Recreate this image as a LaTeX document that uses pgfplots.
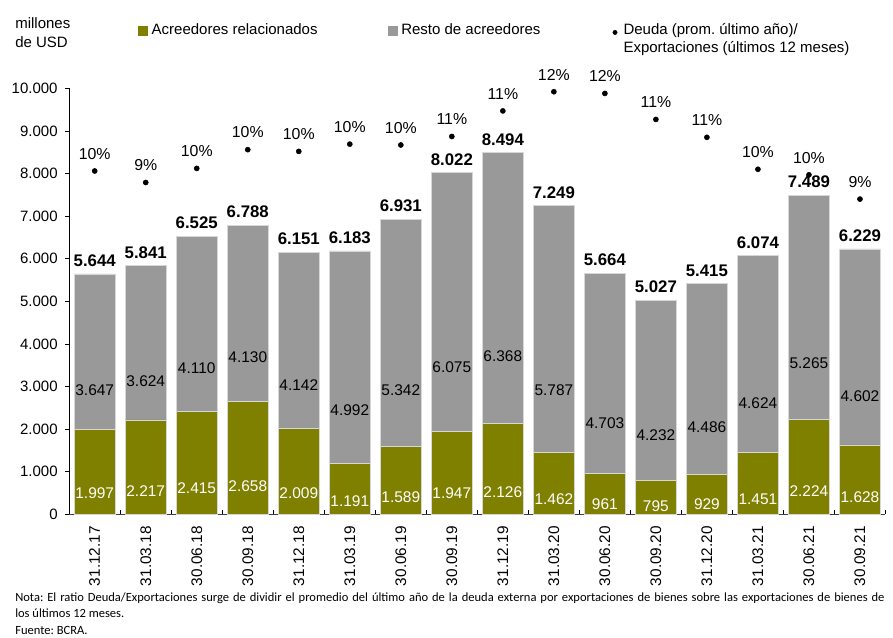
\documentclass[border=0pt]{standalone}
\usepackage{fontspec}
\setmainfont{Liberation Sans}
\newfontfamily\notefont{Carlito}
\usepackage{pgfplots}
\pgfplotsset{compat=1.18}
\definecolor{olivec}{RGB}{128,128,0}
\definecolor{grayc}{RGB}{153,153,153}
\definecolor{edgec}{RGB}{215,215,215}
\pgfplotsset{
  common/.style={
    scale only axis, width=612.2pt, height=319.5pt,
    at={(51.9pt,92pt)}, anchor=south west,
    xmin=-0.5, xmax=15.5, ymin=0, ymax=10000,
    enlargelimits=false, clip=false,
    /pgf/number format/1000 sep={.},
    /pgf/number format/assume math mode=true,
  }
}
\begin{document}
\frenchspacing
\begin{tikzpicture}[font=\fontsize{11.25}{13.5}\selectfont]
\useasboundingbox (0,0) rectangle (669.75pt,477.75pt);
\begin{axis}[common,
  ybar stacked, bar width=0.8,
  axis lines*=left,
  y axis line style={black, line width=0.8pt},
  x axis line style={black!75, line width=0.8pt},
  ytick={0,1000,...,10000}, scaled y ticks=false,
  ytick align=outside, xtick align=inside,
  major tick length=3pt, minor tick length=3pt,
  tick style={black, line width=0.6pt},
  xtick={0,...,15},
  xticklabels={31.12.17,31.03.18,30.06.18,30.09.18,31.12.18,31.03.19,30.06.19,30.09.19,31.12.19,31.03.20,30.06.20,30.09.20,31.12.20,31.03.21,30.06.21,30.09.21},
  major x tick style={draw=none},
  minor xtick={0.5,1.5,...,15.5},
  xticklabel style={rotate=90, anchor=east, inner sep=0pt, font=\fontsize{11.5}{13}\selectfont},
  xticklabel shift=8.8pt,
  yticklabel style={inner sep=0pt},
  yticklabel shift=5.5pt,
  legend columns=3,
  legend style={at={(axis description cs:0.0843,1.1512)}, anchor=north west,
    draw=none, fill=none, inner sep=0pt, outer sep=0pt,
    column sep=3pt,
    /tikz/every even column/.append style={column sep=52.5pt},
    cells={anchor=base west},
    nodes={inner sep=0pt, text depth=0pt}},
]
\addplot[fill=olivec, draw=edgec, line width=0.5pt,
  legend image code/.code={\fill[olivec] (0pt,0pt) rectangle (6.75pt,6.75pt);},
  visualization depends on=rawy \as \rawy,
  nodes near coords={\pgfmathprintnumber{\rawy}},
  every node near coord/.append style={text=white, anchor=center, inner sep=0pt,
    font=\fontsize{11.6}{13}\selectfont, shift={(axis direction cs:0,-\rawy/4)}},
] coordinates {(0,1997) (1,2217) (2,2415) (3,2658) (4,2009) (5,1191) (6,1589) (7,1947)
  (8,2126) (9,1462) (10,961) (11,795) (12,929) (13,1451) (14,2224) (15,1628)};
\addlegendentry{Acreedores relacionados}
\addplot[fill=grayc, draw=edgec, line width=0.5pt,
  legend image code/.code={\fill[grayc] (0pt,0pt) rectangle (6.75pt,6.75pt);},
  visualization depends on=rawy \as \rawy,
  nodes near coords={\pgfmathprintnumber{\rawy}},
  every node near coord/.append style={text=black, anchor=center, inner sep=0pt,
    font=\fontsize{11.6}{13}\selectfont, shift={(axis direction cs:0,-\rawy/4)}},
] coordinates {(0,3647) (1,3624) (2,4110) (3,4130) (4,4142) (5,4992) (6,5342) (7,6075)
  (8,6368) (9,5787) (10,4703) (11,4232) (12,4486) (13,4624) (14,5265) (15,4602)};
\addlegendentry{Resto de acreedores}
\addlegendimage{legend image code/.code={\path[draw=none,fill=none] (0pt,0pt) rectangle (6.75pt,6.75pt); \fill[black] (3.375pt,1.9pt) circle (1.6pt);}}
\addlegendentry{\parbox[t]{180pt}{\baselineskip=13.5pt Deuda (prom. último año)/\\Exportaciones (últimos 12 meses)}}
\end{axis}
\begin{axis}[common, hide axis]
\addplot[only marks, mark=*, mark size=1.9pt, black,
  nodes near coords, point meta=explicit symbolic,
  every node near coord/.append style={anchor=base, inner sep=0pt, yshift=8.8pt,
    font=\fontsize{11.9}{13}\selectfont}]
  coordinates {(0,8060)[10\%] (1,7790)[9\%] (2,8120)[10\%] (3,8560)[10\%] (4,8520)[10\%]
  (5,8690)[10\%] (6,8670)[10\%] (7,8870)[11\%] (8,9470)[11\%] (9,9920)[12\%]
  (10,9880)[12\%] (11,9270)[11\%] (12,8850)[11\%] (13,8100)[10\%] (14,7970)[10\%] (15,7400)[9\%]};
\addplot[only marks, mark=none,
  nodes near coords, point meta=explicit symbolic,
  every node near coord/.append style={anchor=base, inner sep=0pt, yshift=5.6pt,
    font=\bfseries\fontsize{12.6}{14}\selectfont}]
  coordinates {(0,5644)[5.644] (1,5841)[5.841] (2,6525)[6.525] (3,6788)[6.788] (4,6151)[6.151]
  (5,6183)[6.183] (6,6931)[6.931] (7,8022)[8.022] (8,8494)[8.494] (9,7249)[7.249]
  (10,5664)[5.664] (11,5027)[5.027] (12,5415)[5.415] (13,6075)[6.074] (14,7489)[7.489] (15,6230)[6.229]};
\end{axis}
\node[anchor=base west, inner sep=0pt] at (11.25pt,456.4pt) {millones};
\node[anchor=base west, inner sep=0pt] at (11.25pt,442.1pt) {de USD};
\node[anchor=north west, inner sep=0pt, text width=652pt, align=justify,
  font=\notefont\fontsize{9.4}{12.5}\selectfont] at (11.25pt,33.5pt)
  {Nota: El ratio Deuda/Exportaciones surge de dividir el promedio del último año de la deuda externa por exportaciones de bienes sobre las exportaciones de bienes de\linebreak los últimos 12 meses.\\Fuente: BCRA.};
\end{tikzpicture}
\end{document}
